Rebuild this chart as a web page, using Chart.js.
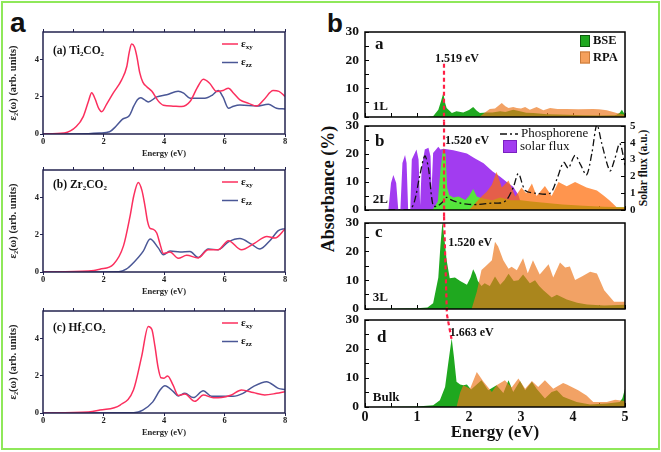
<!DOCTYPE html>
<html><head><meta charset="utf-8">
<script src="https://cdn.jsdelivr.net/npm/chart.js@4/dist/chart.umd.min.js"></script>
<style>
html,body{margin:0;padding:0;background:#fff}
body{width:661px;height:452px;overflow:hidden;position:relative;font-family:"Liberation Serif","Times New Roman",serif}
canvas{position:absolute;left:0;top:0}
.outer{position:absolute;left:1px;top:1px;width:655px;height:445px;border:2px solid #8fe85a}
.big{position:absolute;font-family:"Liberation Sans",Arial,sans-serif;font-weight:bold;line-height:1;color:#111}
.rot{position:absolute;white-space:nowrap;font-weight:bold;color:#111;transform:translate(-50%,-50%) rotate(-90deg)}
</style></head>
<body>
<div class="outer"></div>
<div class="big" style="left:10px;top:9px;font-size:28px">a</div>
<div class="big" style="left:327px;top:10px;font-size:26px">b</div>
<div class="rot" style="left:328px;top:189px;font-size:18px">Absorbance (%)</div>
<div class="rot" style="left:643px;top:168px;font-size:11.5px">Solar flux (a.u.)</div>
<script>
// ---------- Panel a data (energy in eV, ε2 in arb. units) ----------
const tiXyE = [0,0.7,1.1,1.33,1.5,1.61,1.72,1.85,1.94,2.1,2.32,2.6,2.77,2.85,2.93,3.02,3.1,3.2,3.3,3.43,3.6,3.8,3.98,4.3,4.58,4.86,5.1,5.3,5.5,5.74,5.95,6.13,6.3,6.51,6.8,7.06,7.3,7.61,7.8,8.0];
const tiXy  = [0,0.05,0.4,0.94,1.75,2.23,1.9,1.35,1.2,1.6,2.2,2.92,3.64,4.4,4.85,4.7,4.2,3.3,2.8,2.55,2.3,1.8,1.55,1.5,1.48,1.75,2.5,2.95,2.75,2.29,2.35,2.47,2.2,1.84,1.65,1.51,1.85,2.34,2.3,2.02];
const tiZzE = [0,1.5,1.87,2.2,2.42,2.63,2.85,3.0,3.12,3.23,3.35,3.48,3.76,4.09,4.47,4.65,4.86,5.35,5.6,5.79,5.95,6.13,6.3,6.51,7.06,7.45,7.72,8.0];
const tiZz  = [0,0.02,0.05,0.12,0.43,0.8,0.98,1.5,1.85,1.96,1.85,1.73,2.0,2.12,2.3,2.2,1.93,1.93,2.1,2.34,2.0,1.39,1.5,1.56,1.51,1.6,1.39,1.35];
const zrXyE = [0,1.5,1.88,2.33,2.66,2.88,3.0,3.15,3.27,3.37,3.46,3.54,3.65,3.76,3.87,3.98,4.2,4.47,4.75,5.13,5.46,5.79,6.13,6.56,7.0,7.4,7.67,8.0];
const zrXy  = [0,0.05,0.15,0.42,1.41,3.03,4.1,4.83,4.4,3.57,2.7,2.35,2.3,2.1,1.5,1.0,1.08,0.74,0.9,0.76,1.2,1.2,1.69,1.2,1.56,1.92,1.83,2.32];
const zrZzE = [0,2.5,2.75,2.99,3.32,3.54,3.81,3.98,4.2,4.53,4.86,5.13,5.46,5.79,6.13,6.51,6.89,7.17,7.5,7.78,8.0];
const zrZz  = [0,0.02,0.15,0.5,1.14,1.78,1.3,0.93,1.13,1.08,1.1,0.78,1.24,1.2,1.62,1.8,1.5,1.24,1.69,2.23,2.34];
const hfXyE = [0,1.5,1.88,2.55,2.99,3.26,3.48,3.6,3.7,3.8,3.9,4.0,4.12,4.3,4.47,4.69,5.02,5.3,5.63,5.9,6.23,6.56,6.95,7.33,7.72,8.0];
const hfXy  = [0,0.05,0.16,0.43,1.24,3.04,4.67,4.5,3.6,2.5,1.9,1.88,2.0,1.5,0.95,1.02,0.63,0.97,0.82,0.83,0.97,1.24,1.1,0.97,1.06,1.15];
const hfZzE = [0,3.0,3.3,3.63,3.87,4.03,4.31,4.47,4.69,4.97,5.3,5.57,5.9,6.28,6.61,6.95,7.39,7.78,8.0];
const hfZz  = [0,0.02,0.16,0.6,1.24,1.47,1.15,0.92,1.06,0.83,1.2,0.9,0.9,0.9,1.06,1.42,1.69,1.33,1.27];

// ---------- Panel b data (energy in eV, absorbance in %) ----------
const bse1E = [0,1.0,1.2,1.31,1.41,1.46,1.506,1.54,1.57,1.67,1.76,1.89,2.0,2.08,2.15,2.21,2.34,2.45,2.6,2.7,2.85,2.98,3.1,3.24,3.5,3.88,4.2,4.52,4.8,4.84,4.9,4.94,5.0];
const bse1  = [0,0.1,0.1,0.3,2.6,5.5,8.5,5,3.2,1.4,2,1.6,2.5,3.5,2.2,1.4,1.6,1.6,2,1.8,2.6,2,1.5,1.4,1.0,0.8,0.6,0.5,0.6,0.8,1.5,2.6,0.8];
const rpa1E = [2.2,2.3,2.4,2.5,2.63,2.7,2.76,2.85,2.92,3.0,3.08,3.17,3.3,3.43,3.56,3.7,3.88,4.1,4.39,4.5,4.65,4.84,5.0];
const rpa1  = [0,1.5,2.8,3.0,4.9,3.8,3.2,3.5,3.2,3.0,3.5,2.6,3.5,2.4,3.2,2.8,2.8,2.7,2.8,2.7,2.4,1.4,0.8];

const solarE = [0.3,0.45,0.5,0.545,0.6,0.64,0.68,0.72,0.77,0.8,0.83,0.87,0.9,0.99,1.03,1.06,1.09,1.15,1.22,1.26,1.28,1.31,1.41,1.45,1.51,1.7,1.96,2.1,2.28,2.45,2.6,2.75,2.85,2.95,2.98,3.05,3.11];
const solar  = [0,0,1.6,2.08,1.6,0,0,2.8,3.27,2.8,0,0,3.0,3.6,3.0,0.3,2.5,3.6,3.7,3.2,1.2,3.4,3.77,3.6,3.65,3.55,3.37,3.1,2.78,2.3,1.98,1.6,1.38,0.9,0.6,0.3,0];
const phosE = [0.45,0.85,0.95,1.05,1.15,1.22,1.31,1.4,1.5,1.57,1.67,1.83,2.0,2.2,2.45,2.6,2.72,2.85,2.95,3.08,3.27,3.56,3.69,3.82,3.91,4.04,4.15,4.26,4.36,4.46,4.55,4.71,4.8,4.9,5.0];
const phos  = [0,0,3,12,19.3,15,1.5,1.5,3,4.5,3.5,2.5,2,2,2.5,2.5,3.5,8,13,7,6,6,11,17,15,19.5,16,12.5,20,30.5,24,14,18,23.8,16];
const bse2E = [0,1.3,1.4,1.45,1.5,1.55,1.58,1.62,1.7,1.8,1.93,2.0,2.08,2.15,2.2,2.3,2.45,2.6,2.8,3.0,3.2,3.5,3.8,4.2,4.6,5.0];
const bse2  = [0,0.1,3,14,22,20,8,5.4,4.5,4.8,3.6,5,7.5,4.8,4.5,4,3.5,4.5,3.5,3.5,3,2.5,2,1.5,1.2,1];
const rpa2E = [2.0,2.15,2.25,2.34,2.44,2.53,2.63,2.76,2.89,3.01,3.1,3.21,3.3,3.46,3.59,3.72,3.88,4.04,4.26,4.46,4.6,4.71,4.84,5.0];
const rpa2  = [0,3,5,6.5,9,13.7,8,10.5,4.8,8,6,9.5,5,8.6,5,10,8.5,10,8,7,5,3.3,1,1];

const bse3E = [0,1.0,1.2,1.31,1.41,1.45,1.49,1.53,1.57,1.63,1.73,1.83,1.96,2.03,2.08,2.13,2.17,2.24,2.3,2.4,2.5,2.6,2.68,2.76,2.86,2.95,3.04,3.17,3.27,3.35,3.43,3.59,3.69,3.88,4.08,4.27,4.6,5.0];
const bse3  = [0,0.3,0.5,2,11,22,30.5,24,17,10.7,11,9.8,8.5,11,13.9,12,9.8,8,9,8,11.3,8.5,10,12.3,9.8,10,12,9,10,8,6.5,4,5,3.3,2.2,1.6,1.2,1.5];
const rpa3E = [2.05,2.15,2.24,2.34,2.44,2.5,2.56,2.66,2.76,2.82,2.92,3.04,3.13,3.23,3.36,3.53,3.62,3.75,3.85,3.94,4.04,4.17,4.33,4.46,4.6,4.79,5.0];
const rpa3  = [0,6,13.6,15.3,17,23.5,21.8,17,14,14.7,13.5,17.7,12.5,17,12,15.6,11,16.2,14.5,14.8,10.1,11.3,13,12.4,6.5,2.5,2.5];

const bseBE = [0,1.0,1.31,1.44,1.54,1.6,1.667,1.71,1.76,1.83,1.89,1.96,2.04,2.1,2.24,2.37,2.53,2.66,2.76,2.85,2.98,3.08,3.21,3.3,3.46,3.59,3.69,3.81,4.07,4.33,4.65,4.9,4.95,5.0];
const bseB  = [0,0.2,0.6,2.3,6.9,15,23.7,17.3,8.7,7.8,7.5,7.8,6,7,9.2,5.8,7.5,4.8,9.2,5.2,9,5.8,8.7,6.3,2.9,5.2,5.8,3.5,1.7,0.9,1.2,1.7,3,6.3];
const rpaBE = [1.76,1.83,1.89,2.02,2.15,2.28,2.44,2.53,2.69,2.82,2.95,3.08,3.21,3.33,3.46,3.62,3.81,3.88,4.1,4.26,4.39,4.65,4.81,5.0];
const rpaB  = [0,5,7.5,6.3,12.1,8.7,5.2,7.5,9.2,6.7,9.8,6.3,9,6.9,9.2,6.3,8.3,7.8,5.8,4,1.7,1.7,2.5,2.1];

// red dashed guide through the band-gap peaks (energy, absorbance)
const gapAE = [1.519,1.519], gapA = [18.8,-1.6];
const gapBE = [1.520,1.520], gapB = [31.6,-2.3];
const gapCE = [1.520,1.575], gapC = [32.3,-1.9];
const gapDE = [1.575,1.663], gapD = [31.9,23.5];

// ---------- helpers ----------
const W = 661, H = 452;
const SERIF = '"Liberation Serif","Times New Roman",serif';
const RED = '#fb2f5e', BLUE = '#4a5796', NAVY = '#23234f';
const GREEN = '#1fa81f', GREEN2 = '#55e63c', ORANGE = 'rgba(236,118,28,0.68)', ORANGE2 = 'rgba(255,108,10,0.72)', PURPLE = '#a23cf0';
const fnt = (size, weight = 'bold') => ({family: SERIF, size, weight});
function addCanvas() { const c = document.createElement('canvas'); c.width = W; c.height = H; document.body.appendChild(c); return c; }
function pts(xs, ys) { return xs.map((x, i) => ({x, y: ys[i]})); }
function fixW(w) { return s => { s.width = w; s.paddingTop = 0; s.paddingBottom = 0; s.paddingLeft = 0; s.paddingRight = 0; }; }
function fixH(h) { return s => { s.height = h; s.paddingTop = 0; s.paddingBottom = 0; s.paddingLeft = 0; s.paddingRight = 0; }; }

Chart.register({
  id: 'frame',
  defaults: {color: '#000', width: 1.5},
  afterDraw(chart, args, o) {
    const a = chart.chartArea, c = chart.ctx;
    c.save(); c.strokeStyle = o.color; c.lineWidth = o.width;
    c.strokeRect(a.left, a.top, a.right - a.left, a.bottom - a.top); c.restore();
  }
});
Chart.register({
  id: 'texts',
  defaults: {items: []},
  afterDraw(chart, args, o) {
    const c = chart.ctx, xs = chart.scales.x, ys = chart.scales.y;
    c.save();
    o.items.forEach(it => {
      c.font = it.font; c.fillStyle = it.color || '#111'; c.textAlign = 'left'; c.textBaseline = 'middle';
      c.fillText(it.t, xs.getPixelForValue(it.x), ys.getPixelForValue(it.y));
    });
    c.restore();
  }
});
Chart.register({
  id: 'keyBox',
  defaults: {items: []},
  afterDraw(chart, args, o) {
    const a = chart.chartArea, c = chart.ctx;
    c.save();
    o.items.forEach(it => {
      const ds = chart.data.datasets[it.ds];
      const x = a.left + it.dx, y = a.top + it.dy;
      if (it.kind === 'line') {
        c.beginPath(); c.setLineDash(ds.borderDash || []); c.strokeStyle = ds.borderColor; c.lineWidth = ds.borderWidth;
        c.moveTo(x, y); c.lineTo(x + it.w, y); c.stroke(); c.setLineDash([]);
      } else {
        c.fillStyle = it.fill; c.fillRect(x, y - it.h / 2, it.w, it.h);
        c.strokeStyle = it.stroke; c.lineWidth = 1; c.strokeRect(x + 0.5, y - it.h / 2 + 0.5, it.w - 1, it.h - 1);
      }
      c.fillStyle = '#111'; c.font = it.font; c.textAlign = 'left'; c.textBaseline = 'middle';
      const tx = x + it.w + it.gap;
      c.fillText(ds.label, tx, y);
      if (ds.sub) { const w = c.measureText(ds.label).width; c.font = it.subFont; c.fillText(ds.sub, tx + w, y + it.subDy); }
    });
    c.restore();
  }
});

// ---------- panel a ----------
function panelA(o) {
  const plotL = 43, plotR = 285, yW = 36, xH = 25, tH = 4;
  const tick = {drawOnChartArea: false, tickLength: 3, color: NAVY, lineWidth: 1};
  new Chart(addCanvas(), {
    type: 'line',
    data: {datasets: [
      {label: 'ε', sub: 'xy', data: pts(o.e1, o.v1), borderColor: RED, borderWidth: 1.5, pointRadius: 0, fill: false, cubicInterpolationMode: 'monotone'},
      {label: 'ε', sub: 'zz', data: pts(o.e2, o.v2), borderColor: BLUE, borderWidth: 1.5, pointRadius: 0, fill: false, cubicInterpolationMode: 'monotone'}
    ]},
    options: {
      responsive: false, animation: false, events: [],
      layout: {autoPadding: false, padding: {left: plotL - yW, right: W - plotR, top: o.top - tH, bottom: H - o.bottom - xH}},
      plugins: {
        legend: {display: false}, tooltip: {enabled: false},
        frame: {color: NAVY, width: 1.5},
        texts: {items: [{t: o.title, x: 0.33, y: o.titleY, font: 'bold 11.5px ' + SERIF}]},
        keyBox: {items: [
          {ds: 0, kind: 'line', dx: 179, dy: 12, w: 16, gap: 3, font: 'bold 11px ' + SERIF, subFont: 'bold 7px ' + SERIF, subDy: 3},
          {ds: 1, kind: 'line', dx: 179, dy: 30.5, w: 16, gap: 3, font: 'bold 11px ' + SERIF, subFont: 'bold 7px ' + SERIF, subDy: 3}
        ]}
      },
      scales: {
        x: {type: 'linear', min: 0, max: 8, afterFit: fixH(xH), border: {display: false}, grid: tick,
            ticks: {stepSize: 2, padding: 0, color: '#222', font: fnt(8.5)},
            title: {display: true, text: 'Energy (eV)', color: '#222', font: fnt(8.5), padding: 0}},
        xt: {type: 'linear', position: 'top', min: 0, max: 8, afterFit: fixH(tH), border: {display: false}, grid: tick,
             ticks: {display: false, stepSize: 1}},
        y: {min: 0, max: 5.5, afterFit: fixW(yW), border: {display: false}, grid: tick,
            ticks: {stepSize: 2, includeBounds: false, padding: 1, color: '#222', font: fnt(8.5)},
            title: {display: true, text: 'ε₂(ω) (arb. units)', color: '#222', font: fnt(10.5), padding: 0}}
      }
    }
  });
}
panelA({top: 32, bottom: 134, e1: tiXyE, v1: tiXy, e2: tiZzE, v2: tiZz, title: '(a) Ti₂CO₂', titleY: 4.47});
panelA({top: 170, bottom: 272, e1: zrXyE, v1: zrXy, e2: zrZzE, v2: zrZz, title: '(b) Zr₂CO₂', titleY: 4.69});
panelA({top: 311, bottom: 413, e1: hfXyE, v1: hfXy, e2: hfZzE, v2: hfZz, title: '(c) Hf₂CO₂', titleY: 4.58});

// ---------- panel b ----------
function area(E, V, color, order, label, axis) {
  return {label, data: pts(E, V), fill: 'origin', backgroundColor: color, borderWidth: 0, pointRadius: 0, tension: 0, order, yAxisID: axis || 'y'};
}
function guide(E, V) {
  return {label: 'gap', data: pts(E, V), borderColor: '#ff1f45', borderWidth: 2.2, borderDash: [4, 3], pointRadius: 0, fill: false, clip: false, order: 0};
}
function panelB(o) {
  const plotL = 365, plotR = 625, yW = 35, y1W = 30, xH = o.showX ? 36 : 2;
  const tick = {drawOnChartArea: false, tickLength: -4, color: '#000', lineWidth: 1};
  const scales = {
    x: {type: 'linear', min: 0, max: 5, z: 1, afterFit: fixH(xH), border: {display: false}, grid: tick,
        ticks: {stepSize: 0.5, autoSkip: false, padding: 6, color: '#111', font: fnt(14), callback: v => (o.showX && Number.isInteger(v)) ? v : ''},
        title: {display: !!o.showX, text: 'Energy (eV)', color: '#111', font: fnt(17), padding: 0}},
    y: {min: 0, max: 30, z: 1, afterFit: fixW(yW), border: {display: false}, grid: tick,
        ticks: {stepSize: 5, autoSkip: false, padding: 10, color: '#111', font: fnt(13.5), callback: v => v % 10 === 0 ? v : ''}}
  };
  if (o.right) scales.y1 = {position: 'right', min: 0, max: 5, z: 1, afterFit: fixW(y1W), border: {display: false}, grid: tick,
        ticks: {stepSize: 1, padding: 9, color: '#111', font: fnt(11)}};
  new Chart(addCanvas(), {
    type: 'line',
    data: {datasets: o.datasets},
    options: {
      responsive: false, animation: false, events: [],
      layout: {autoPadding: false, padding: {left: plotL - yW, right: W - plotR - (o.right ? y1W : 0), top: o.top, bottom: H - o.bottom - xH}},
      plugins: {legend: {display: false}, tooltip: {enabled: false}, frame: {color: '#000', width: 1.5},
                texts: {items: o.texts}, keyBox: {items: o.legend || []}},
      scales
    }
  });
}
const T = (t, x, y, size, weight) => ({t, x, y, font: (weight || 'bold') + ' ' + size + 'px ' + SERIF});

panelB({top: 32, bottom: 117,
  datasets: [guide(gapAE, gapA), area(rpa1E, rpa1, ORANGE, 2, 'RPA'), area(bse1E, bse1, GREEN, 3, 'BSE')],
  texts: [T('a', 0.19, 25.4, 17), T('1L', 0.15, 3.6, 13), T('1.519 eV', 1.346, 20.5, 12)],
  legend: [
    {ds: 2, kind: 'box', dx: 215, dy: 9, w: 10, h: 12, gap: 3, fill: GREEN, stroke: '#0d5a0d', font: 'bold 12.5px ' + SERIF},
    {ds: 1, kind: 'box', dx: 215, dy: 25.5, w: 10, h: 12, gap: 3, fill: '#f5a05c', stroke: '#c87a3a', font: 'bold 12.5px ' + SERIF}
  ]});
panelB({top: 126, bottom: 210, right: true,
  datasets: [guide(gapBE, gapB),
    {label: 'Phosphorene', data: pts(phosE, phos), borderColor: '#111', borderWidth: 1.3, borderDash: [7, 3, 2, 3], pointRadius: 0, fill: false, tension: 0.3, order: 1},
    area(rpa2E, rpa2, ORANGE2, 2, 'RPA'), area(bse2E, bse2, GREEN2, 3, 'BSE'), area(solarE, solar, PURPLE, 4, 'solar flux', 'y1')],
  texts: [T('b', 0.19, 24.3, 17), T('2L', 0.15, 3.6, 13), T('1.520 eV', 1.54, 24.6, 12)],
  legend: [
    {ds: 1, kind: 'line', dx: 135, dy: 8, w: 18, gap: 3, font: '13px ' + SERIF},
    {ds: 4, kind: 'box', dx: 138, dy: 20.5, w: 14, h: 13, gap: 3, fill: PURPLE, stroke: '#7a20c0', font: '13px ' + SERIF}
  ]});
panelB({top: 223, bottom: 309,
  datasets: [guide(gapCE, gapC), area(rpa3E, rpa3, ORANGE, 2, 'RPA'), area(bse3E, bse3, GREEN, 3, 'BSE')],
  texts: [T('c', 0.19, 26.5, 17), T('3L', 0.15, 3.8, 13), T('1.520 eV', 1.6, 23, 12)]});
panelB({top: 320, bottom: 407, showX: true,
  datasets: [guide(gapDE, gapD), area(rpaBE, rpaB, ORANGE, 2, 'RPA'), area(bseBE, bseB, GREEN, 3, 'BSE')],
  texts: [T('d', 0.23, 23.8, 17), T('Bulk', 0.15, 3.1, 13), T('1.663 eV', 1.63, 25.5, 12)]});
</script>
</body></html>
